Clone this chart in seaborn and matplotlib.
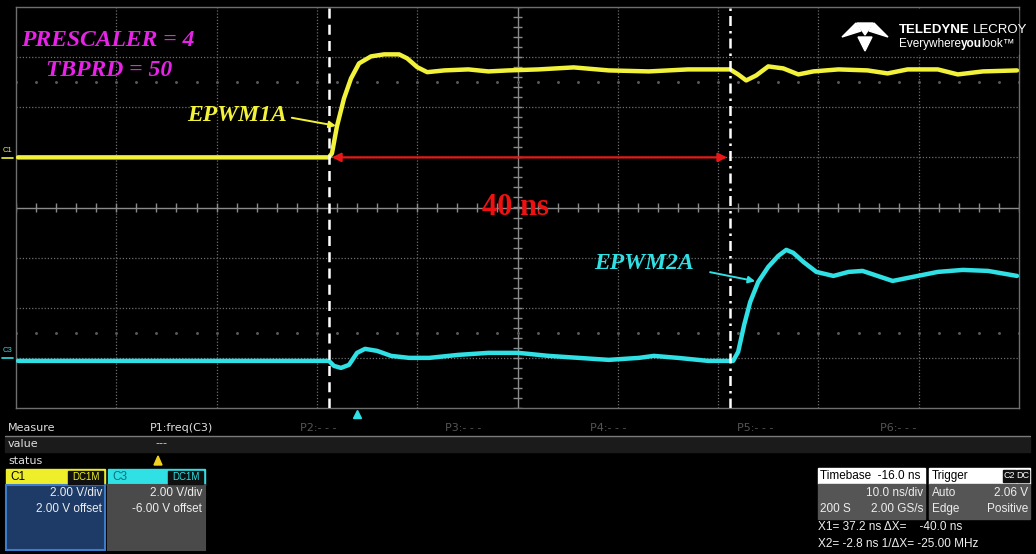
import matplotlib
matplotlib.use("Agg")
import matplotlib.pyplot as plt
from matplotlib.patches import Rectangle, Polygon
import numpy as np
import pandas as pd
import seaborn as sns

# scope settings (10 ns/div, 10 x 8 divisions)
t_left, t_right = -34.0, 66.0
ns_per_div = 10.0
volts_per_div = 2.0
c1_offset = 2.0
c3_offset = -6.0
cursor_x2 = -2.8
cursor_x1 = 37.2

# C1 = EPWM1A (ns, V)
c1_time = [-33.8, -2.8, -2.5, -2.0, -1.3, -0.6, 0.2, 1.4, 2.7, 4.2, 5.0, 6.0, 7.0,
           8.7, 11.1, 13.1, 15.1, 18.1, 21.6, 25.1, 29.1, 33.0, 37.2, 38.0, 38.8,
           39.8, 41.0, 42.5, 44.0, 45.5, 48.0, 50.9, 52.9, 54.9, 57.9, 59.9, 62.4, 65.8]
c1_volts = [0.0, 0.0, 0.16, 1.24, 2.35, 3.15, 3.75, 4.03, 4.11, 4.11, 3.95, 3.6, 3.4,
            3.47, 3.51, 3.43, 3.47, 3.51, 3.59, 3.47, 3.43, 3.51, 3.51, 3.31, 3.07,
            3.27, 3.63, 3.55, 3.31, 3.43, 3.51, 3.47, 3.35, 3.51, 3.51, 3.31, 3.43, 3.47]

# C3 = EPWM2A
c3_time = [-33.8, -2.8, -2.3, -1.6, -0.8, 0.0, 0.8, 2.0, 3.4, 5.2, 7.2, 10.1, 13.1,
           16.1, 19.1, 22.1, 25.1, 28.1, 29.6, 32.0, 35.0, 37.5, 38.0, 38.6, 39.2,
           40.0, 41.0, 42.0, 42.8, 43.5, 44.5, 45.8, 47.5, 49.0, 50.4, 51.9, 53.4,
           55.4, 57.9, 60.4, 62.9, 65.8]
c3_volts = [-0.12, -0.12, -0.32, -0.40, -0.28, 0.2, 0.36, 0.28, 0.08, 0.0, 0.0, 0.12, 0.2,
            0.2, 0.08, 0.0, -0.08, 0.0, 0.08, 0.0, -0.12, -0.12, 0.24, 1.32, 2.23,
            3.03, 3.63, 4.07, 4.31, 4.19, 3.83, 3.43, 3.27, 3.43, 3.47, 3.27, 3.07,
            3.23, 3.43, 3.51, 3.47, 3.27]

YEL = "#f2f23a"
CYA = "#2fe0e4"
GRID = "#6e6e6e"

sns.set_theme(style="dark", rc={"axes.facecolor": "black", "figure.facecolor": "black"})
plt.rcParams["font.family"] = ["Liberation Sans", "DejaVu Sans"]

c1 = pd.DataFrame({"t": c1_time, "div": (np.array(c1_volts) + c1_offset) / volts_per_div})
c3 = pd.DataFrame({"t": c3_time, "div": (np.array(c3_volts) + c3_offset) / volts_per_div})

fig = plt.figure(figsize=(10.36, 5.54), dpi=100)
ax = fig.add_axes([16 / 1036, 146 / 554, 1003 / 1036, 401 / 554])
ax.set_xlim(t_left, t_right)
ax.set_ylim(-4, 4)
ax.set_xticks([])
ax.set_yticks([])
for s in ax.spines.values():
    s.set_color(GRID)
    s.set_linewidth(1)

# graticule
t_mid = (t_left + t_right) / 2
for k in range(1, 10):
    if k != 5:
        ax.axvline(t_left + k * ns_per_div, color=GRID, lw=0.9, ls=(0, (1, 1.5)), zorder=1)
for k in range(-3, 4):
    if k != 0:
        ax.axhline(k, color=GRID, lw=0.9, ls=(0, (1, 1.5)), zorder=1)
ax.axvline(t_mid, color="#8a8a8a", lw=1, zorder=1)
ax.axhline(0, color="#8a8a8a", lw=1, zorder=1)
minor_t = np.arange(t_left, t_right + 0.01, ns_per_div / 5)
ax.vlines(minor_t, -0.08, 0.08, color="#8a8a8a", lw=1, zorder=1)
minor_y = np.arange(-4, 4.01, 0.2)
ax.hlines(minor_y, t_mid - 0.4, t_mid + 0.4, color="#8a8a8a", lw=1, zorder=1)
for yy in (2.5, -2.5):
    ax.scatter(minor_t, np.full_like(minor_t, yy), s=1.2, color="#5a5a5a", zorder=1)

# traces
sns.lineplot(data=c1, x="t", y="div", color=YEL, lw=3.2, estimator=None, sort=False,
             ax=ax, zorder=3, solid_joinstyle="round", solid_capstyle="round")
sns.lineplot(data=c3, x="t", y="div", color=CYA, lw=3.2, estimator=None, sort=False,
             ax=ax, zorder=3, solid_joinstyle="round", solid_capstyle="round")
ax.set_xlabel("")
ax.set_ylabel("")

# cursors
ax.axvline(cursor_x2, color="white", lw=1.8, ls=(0, (4, 2.5)), zorder=4)
ax.axvline(cursor_x1, color="white", lw=1.8, ls=(0, (4, 2, 1, 2)), zorder=4)

# 40 ns arrow
c1_base = c1_offset / volts_per_div
ax.annotate("", xy=(cursor_x2 + 0.3, c1_base), xytext=(cursor_x1 - 0.3, c1_base),
            arrowprops=dict(arrowstyle="<|-|>", color="#e81818", lw=1.6, mutation_scale=13,
                            shrinkA=0, shrinkB=0), zorder=5)
serif = ["Liberation Serif", "DejaVu Serif"]
ax.text(t_mid - 0.2, 0.0, "40 ns", color="#ee1111", fontsize=22, fontweight="bold",
        family=serif, ha="center", va="center", zorder=6)

ax.text(-24.9, 3.34, "PRESCALER = 4", color="#e823e8", fontsize=17, fontweight="bold",
        fontstyle="italic", family=serif, ha="center", va="center", zorder=6)
ax.text(-24.7, 2.74, "TBPRD = 50", color="#e823e8", fontsize=17, fontweight="bold",
        fontstyle="italic", family=serif, ha="center", va="center", zorder=6)

ax.text(-12.0, 1.84, "EPWM1A", color=YEL, fontsize=17, fontweight="bold",
        fontstyle="italic", family=serif, ha="center", va="center", zorder=6)
ax.annotate("", xy=(-2.1, 1.63), xytext=(-6.5, 1.79),
            arrowprops=dict(arrowstyle="-|>", color=YEL, lw=1.4, mutation_scale=10,
                            shrinkA=0, shrinkB=0), zorder=6)
ax.text(28.6, -1.11, "EPWM2A", color=CYA, fontsize=17, fontweight="bold",
        fontstyle="italic", family=serif, ha="center", va="center", zorder=6)
ax.annotate("", xy=(39.7, -1.47), xytext=(35.2, -1.29),
            arrowprops=dict(arrowstyle="-|>", color=CYA, lw=1.4, mutation_scale=10,
                            shrinkA=0, shrinkB=0), zorder=6)

# trigger marker
ax.plot([0], [-4.12], marker="^", color=CYA, ms=6, clip_on=False, zorder=6)

# overlay for the scope UI, pixel coordinates
ov = fig.add_axes([0, 0, 1, 1], facecolor="none")
ov.set_xlim(0, 1036)
ov.set_ylim(554, 0)
ov.axis("off")


def text_run(x, y, pieces, size, gap=0.0):
    # place text pieces one after another on a line
    renderer = fig.canvas.get_renderer()
    for s, weight in pieces:
        t = ov.text(x, y, s, color="white", fontsize=size, fontweight=weight,
                    va="center", zorder=3)
        bb = t.get_window_extent(renderer)
        x += bb.width + gap


# logo
ov.add_patch(Rectangle((826, 10), 192, 44, color="black", zorder=1))
for pts in ([(842, 37), (856, 23), (861, 31)],
            [(857, 23), (873, 23), (865, 35)],
            [(869, 31), (874, 23), (888, 37)],
            [(858, 37), (872, 37), (865, 51)]):
    ov.add_patch(Polygon(pts, closed=True, color="white", zorder=2))
text_run(899, 30, [("TELEDYNE", "bold"), ("LECROY", "normal")], 9.5, gap=3.0)
text_run(899, 44, [("Everywhere", "normal"), ("you", "bold"), ("look\u2122", "normal")], 8.5,
         gap=-0.5)

# channel flags on the left
ov.text(3, 150, "C1", color=YEL, fontsize=5.5, va="center")
ov.plot([2, 13], [158, 158], color=YEL, lw=1.2)
ov.text(3, 350, "C3", color=CYA, fontsize=5.5, va="center")
ov.plot([2, 13], [358, 358], color=CYA, lw=1.2)

# measure table
ui = ["DejaVu Sans"]
ov.add_patch(Rectangle((5, 437), 1025, 15, color="#1b1b1b", zorder=1))
ov.plot([5, 1030], [436, 436], color="#7a7a7a", lw=1)
ov.text(8, 428, "Measure", color="#e0e0e0", fontsize=8, family=ui, va="center")
ov.text(8, 444, "value", color="#e0e0e0", fontsize=8, family=ui, va="center")
ov.text(8, 461, "status", color="#e0e0e0", fontsize=8, family=ui, va="center")
ov.text(150, 428, "P1:freq(C3)", color="#e0e0e0", fontsize=8, family=ui, va="center")
for px, lab in zip([300, 445, 590, 737, 880], ["P2", "P3", "P4", "P5", "P6"]):
    ov.text(px, 428, lab + ":- - -", color="#555555", fontsize=8, family=ui, va="center")
ov.text(155, 443, "---", color="#d0d0d0", fontsize=8, family=ui, va="center")
ov.add_patch(Polygon([(154, 465), (162, 465), (158, 456)], closed=True, color="#f0d020"))


# channel boxes
def chan_box(x0, x1, head, body, name, name_col, lines, border=None):
    ov.add_patch(Rectangle((x0, 469), x1 - x0, 16, color=head, zorder=1))
    ov.add_patch(Rectangle((x0, 485), x1 - x0, 65, facecolor=body,
                           edgecolor=border if border else body, lw=1.5, zorder=1))
    ov.text(x0 + 4, 477, name, color=name_col, fontsize=8.5, va="center", zorder=2)
    ov.add_patch(Rectangle((x1 - 37, 471), 35, 13, color="#101010", zorder=2))
    ov.text(x1 - 19.5, 477.5, "DC1M", color=head, fontsize=7, ha="center", va="center", zorder=3)
    for yy, s in zip([493, 509], lines):
        ov.text(x1 - 3, yy, s, color="#eeeeee", fontsize=8.5, ha="right", va="center", zorder=2)


chan_box(6, 105, "#eeee2a", "#1d3b66", "C1", "black", ["2.00 V/div", "2.00 V offset"],
         border="#3d7cc9")
chan_box(108, 205, CYA, "#4a4a4a", "C3", "#0a7078", ["2.00 V/div", "-6.00 V offset"])

# timebase / trigger
ov.add_patch(Rectangle((818, 468), 107, 16, color="white"))
ov.add_patch(Rectangle((818, 484), 107, 35, color="#555555"))
ov.text(820, 476, "Timebase  -16.0 ns", color="black", fontsize=8.5, va="center")
ov.text(923, 493, "10.0 ns/div", color="#eeeeee", fontsize=8.5, ha="right", va="center")
ov.text(820, 509, "200 S", color="#eeeeee", fontsize=8.5, va="center")
ov.text(923, 509, "2.00 GS/s", color="#eeeeee", fontsize=8.5, ha="right", va="center")

ov.add_patch(Rectangle((929, 468), 101, 16, color="white"))
ov.add_patch(Rectangle((929, 484), 101, 35, color="#555555"))
ov.text(932, 476, "Trigger", color="black", fontsize=8.5, va="center")
ov.add_patch(Rectangle((1003, 470), 13, 12, color="#111111"))
ov.text(1009.5, 476, "C2", color="white", fontsize=6.5, ha="center", va="center")
ov.add_patch(Rectangle((1017, 470), 12, 12, color="#111111"))
ov.text(1023, 476, "DC", color="white", fontsize=6.5, ha="center", va="center")
ov.text(932, 493, "Auto", color="#eeeeee", fontsize=8.5, va="center")
ov.text(1028, 493, "2.06 V", color="#eeeeee", fontsize=8.5, ha="right", va="center")
ov.text(932, 509, "Edge", color="#eeeeee", fontsize=8.5, va="center")
ov.text(1028, 509, "Positive", color="#eeeeee", fontsize=8.5, ha="right", va="center")

ov.text(818, 527, "X1= 37.2 ns \u0394X=    -40.0 ns", color="#eeeeee", fontsize=8.5, va="center")
ov.text(818, 544, "X2= -2.8 ns 1/\u0394X= -25.00 MHz", color="#eeeeee", fontsize=8.5, va="center")

fig.savefig("out.png", dpi=100, facecolor="black")
